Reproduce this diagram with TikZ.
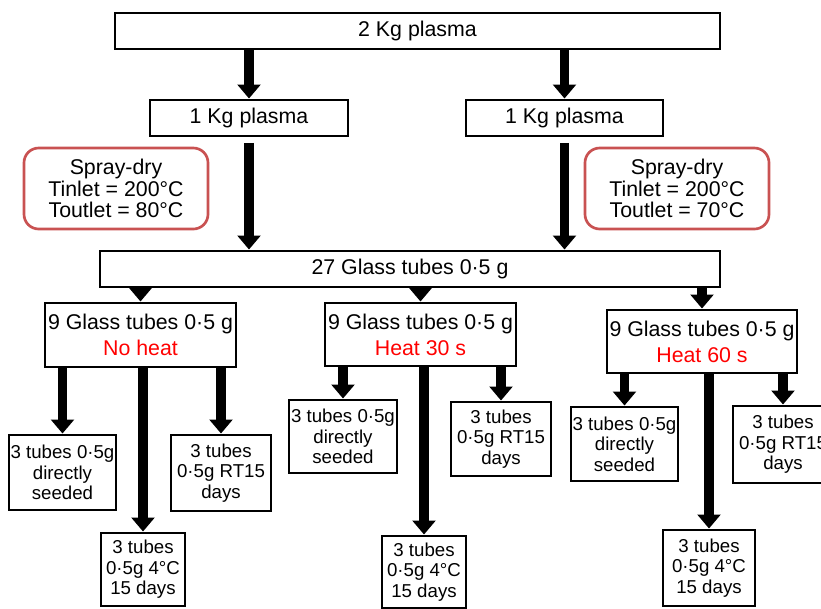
\documentclass[tikz,border=0pt]{standalone}
\usepackage{fontspec}
\setmainfont{Liberation Sans}
\usetikzlibrary{arrows.meta}
\definecolor{sprayred}{RGB}{201,82,82}
\definecolor{heatred}{RGB}{255,0,0}
\tikzset{
    plainbox/.style={draw, line width=2.2pt, align=center, inner sep=1pt},
    spraybox/.style={draw=sprayred, line width=2pt, rounded corners=11pt, align=center, inner sep=1pt},
    sz/.style 2 args={minimum width=#1*0.75pt, minimum height=#2*0.75pt},
    bigfont/.style={font=\fontsize{16}{16.2}\selectfont},
    midfont/.style={font=\fontsize{16}{19.5}\selectfont},
    smallfont/.style={font=\fontsize{14}{15.4}\selectfont},
    fatarrow/.style={line width=7pt, -{Triangle[width=17pt,length=10.5pt]}},
}
\begin{document}
\begin{tikzpicture}[x=0.75pt,y=0.75pt,yscale=-1,xscale=1]
    \useasboundingbox (0,0) rectangle (821,608);

    \node [plainbox, bigfont, sz={605}{36}] (top) at (417.5,31) {2 Kg plasma};
    \node [plainbox, bigfont, sz={198}{36}] (l1) at (249,118) {1 Kg plasma};
    \node [plainbox, bigfont, sz={197}{36}] (r1) at (564.5,118) {1 Kg plasma};
    \node [spraybox, bigfont, sz={184}{81}] (sprayl) at (116,188.5) {Spray-dry\\Tinlet = 200°C\\Toutlet = 80°C};
    \node [spraybox, bigfont, sz={184}{81}] (sprayr) at (677,188.5) {Spray-dry\\Tinlet = 200°C\\Toutlet = 70°C};
    \node [plainbox, bigfont, sz={620}{36}] (tubes27) at (410,269) {27 Glass tubes 0·5 g};

    \node [plainbox, midfont, sz={191}{64}] (n0) at (140.5,335) {9 Glass tubes 0·5 g\\\textcolor{heatred}{No heat}};
    \node [plainbox, midfont, sz={191}{63}] (n30) at (420.5,334.5) {9 Glass tubes 0·5 g\\\textcolor{heatred}{Heat 30 s}};
    \node [plainbox, midfont, sz={190}{63}] (n60) at (702,341.5) {9 Glass tubes 0·5 g\\\textcolor{heatred}{Heat 60 s}};

    \node [plainbox, smallfont, sz={107}{75}] (d0) at (62.5,472.5) {3 tubes 0·5g\\directly\\seeded};
    \node [plainbox, smallfont, sz={84}{73}] (f0) at (143,569.5) {3 tubes\\0·5g 4°C\\15 days};
    \node [plainbox, smallfont, sz={100}{76}] (r0) at (221,473) {3 tubes\\0·5g RT15\\days};

    \node [plainbox, smallfont, sz={108}{73}] (d30) at (343,436.5) {3 tubes 0·5g\\directly\\seeded};
    \node [plainbox, smallfont, sz={84}{72}] (f30) at (424,572) {3 tubes\\0·5g 4°C\\15 days};
    \node [plainbox, smallfont, sz={100}{74}] (r30) at (501,439) {3 tubes\\0·5g RT15\\days};

    \node [plainbox, smallfont, sz={107}{74}] (d60) at (624.5,444) {3 tubes 0·5g\\directly\\seeded};
    \node [plainbox, smallfont, sz={92}{76}] (f60) at (709,568) {3 tubes\\0·5g 4°C\\15 days};
    \node [plainbox, smallfont, sz={100}{77}] (r60) at (783,444.5) {3 tubes\\0·5g RT15\\days};

    \draw [fatarrow] (top.south -| l1.north) -- (l1.north);
    \draw [fatarrow] (top.south -| r1.north) -- (r1.north);
    \draw [fatarrow, shorten <=4pt] (l1.south) -- (l1.south |- tubes27.north);
    \draw [fatarrow, shorten <=4pt] (r1.south) -- (r1.south |- tubes27.north);

    \draw [fatarrow] (tubes27.south -| n0.north) -- (n0.north);
    \draw [fatarrow] (tubes27.south -| n30.north) -- (n30.north);
    \draw [fatarrow] (tubes27.south -| n60.north) -- (n60.north);

    \draw [fatarrow] (n0.south -| d0.north) -- (d0.north);
    \draw [fatarrow] (n0.south -| f0.north) -- (f0.north);
    \draw [fatarrow] (n0.south -| r0.north) -- (r0.north);
    \draw [fatarrow] (n30.south -| d30.north) -- (d30.north);
    \draw [fatarrow] (n30.south -| f30.north) -- (f30.north);
    \draw [fatarrow] (n30.south -| r30.north) -- (r30.north);
    \draw [fatarrow] (n60.south -| d60.north) -- (d60.north);
    \draw [fatarrow] (n60.south -| f60.north) -- (f60.north);
    \draw [fatarrow] (n60.south -| r60.north) -- (r60.north);
\end{tikzpicture}
\end{document}
